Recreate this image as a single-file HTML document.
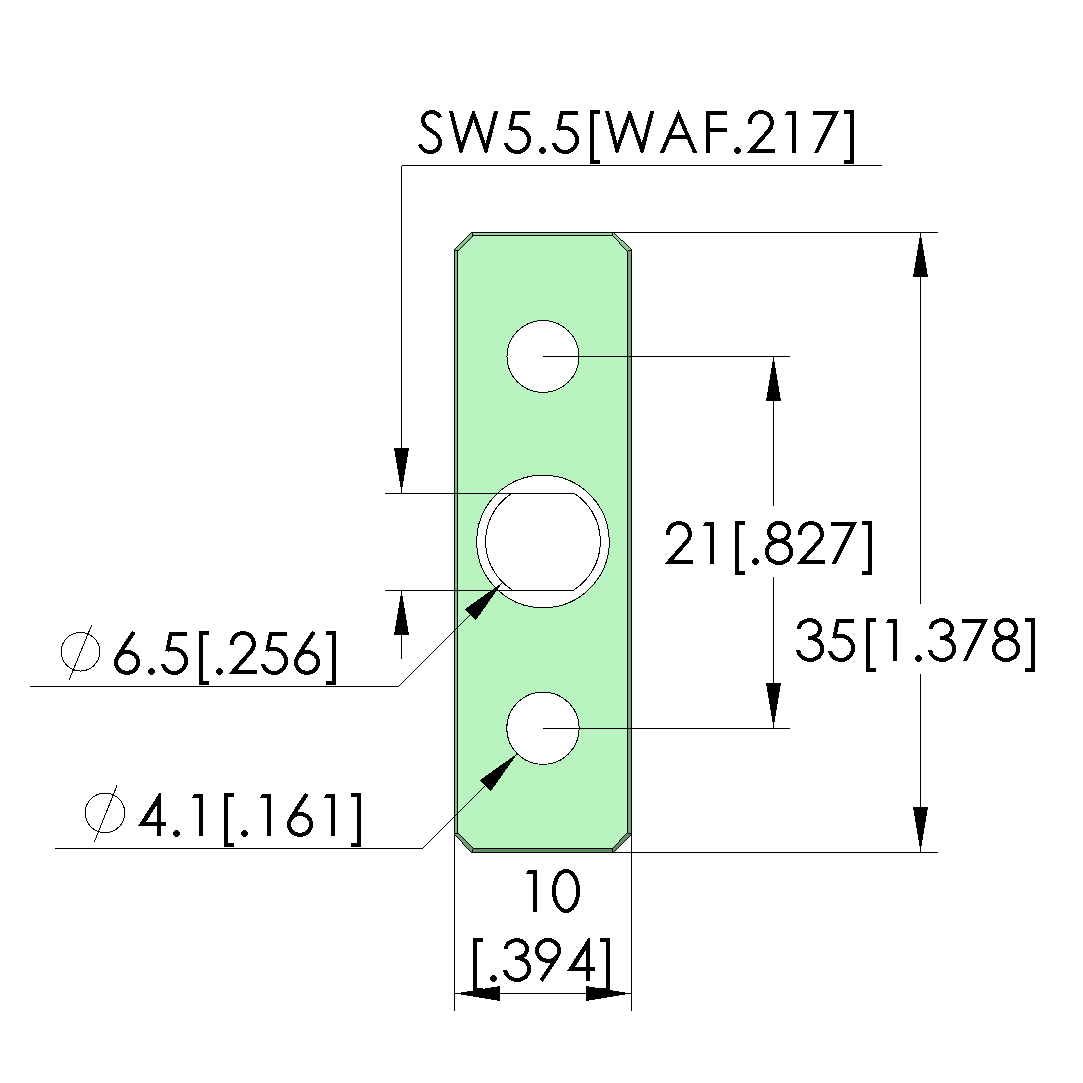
<!DOCTYPE html><html><head><meta charset="utf-8"><title>Drawing</title><style>html,body{margin:0;padding:0;background:#fff;font-family:"Liberation Sans",sans-serif}svg{display:block}</style></head><body><svg width="1083" height="1083" viewBox="0 0 1083 1083" shape-rendering="crispEdges"><defs><clipPath id="capclip"><rect x="-5" y="-42" width="70" height="42"/></clipPath><clipPath id="capclipA"><rect x="-5" y="-43" width="70" height="43"/></clipPath></defs><rect width="1083" height="1083" fill="#fff"/><polygon points="454.5,249.5 471.5,232.5 613.5,232.5 621.5,240.5 622.5,240.5 631.5,249.5 631.5,834.5 613.5,852.5 471.5,852.5 462.5,843.5 462.5,842.5 454.5,834.5" fill="#b9f4c0" stroke="none"/>
<polygon points="454.5,249.5 471.5,232.5 473.5,235.5 457.5,251.5" fill="#86c28c" stroke="none"/>
<polygon points="471.5,232.5 613.5,232.5 612.5,235.5 473.5,235.5" fill="#97db9d" stroke="none"/>
<polygon points="613.5,232.5 621.5,240.5 619.5,242.5 612.5,235.5" fill="#94d69c" stroke="none"/>
<polygon points="621.5,240.5 622.5,240.5 631.5,249.5 627.5,251.5 619.5,243.5 619.5,242.5" fill="#8bc492" stroke="none"/>
<polygon points="631.5,249.5 631.5,834.5 627.5,832.5 627.5,251.5" fill="#75a378" stroke="none"/>
<polygon points="631.5,834.5 613.5,852.5 612.5,848.5 619.5,841.5 619.5,840.5 627.5,832.5" fill="#638c68" stroke="none"/>
<polygon points="613.5,852.5 471.5,852.5 473.5,848.5 612.5,848.5" fill="#648d67" stroke="none"/>
<polygon points="471.5,852.5 462.5,843.5 462.5,842.5 454.5,834.5 457.5,832.5 473.5,848.5" fill="#6f9b74" stroke="none"/>
<polygon points="454.5,834.5 454.5,249.5 457.5,251.5 457.5,832.5" fill="#7fbb86" stroke="none"/>
<g fill="#fff" stroke="#000" stroke-width="1"><circle cx="543.0" cy="356.5" r="36"/><circle cx="543.0" cy="728.2" r="36.2"/><circle cx="543.0" cy="541.5" r="66.3"/></g>
<path d="M512.30,493.0A57.4,57.4 0 0 0 512.30,590.0 M573.70,493.0A57.4,57.4 0 0 1 573.70,590.0" fill="none" stroke="#000" stroke-width="1"/>
<g fill="none" stroke="#000" stroke-width="1"><polygon points="454.5,249.5 471.5,232.5 613.5,232.5 621.5,240.5 622.5,240.5 631.5,249.5 631.5,834.5 613.5,852.5 471.5,852.5 462.5,843.5 462.5,842.5 454.5,834.5"/><polygon points="457.5,251.5 473.5,235.5 612.5,235.5 619.5,242.5 619.5,243.5 627.5,251.5 627.5,832.5 619.5,840.5 619.5,841.5 612.5,848.5 473.5,848.5 457.5,832.5"/><line x1="454.5" y1="250.5" x2="457.5" y2="250.5"/><line x1="472.5" y1="232.5" x2="472.5" y2="235.5"/><line x1="612.5" y1="232.5" x2="612.5" y2="235.5"/><line x1="627.5" y1="250.5" x2="631.5" y2="250.5"/><line x1="627.5" y1="833.5" x2="631.5" y2="833.5"/><line x1="612.5" y1="848.5" x2="612.5" y2="852.5"/><line x1="472.5" y1="848.5" x2="472.5" y2="852.5"/><line x1="454.5" y1="833.5" x2="457.5" y2="833.5"/></g>
<g stroke="#000" stroke-width="1" fill="none"><line x1="401.5" y1="165.5" x2="882" y2="165.5"/><line x1="401.5" y1="165.5" x2="401.5" y2="493.5"/><line x1="385" y1="493.5" x2="573.6" y2="493.5"/><line x1="385" y1="590.5" x2="573.6" y2="590.5"/><line x1="401.5" y1="590.5" x2="401.5" y2="659"/><line x1="613" y1="232.5" x2="938" y2="232.5"/><line x1="613" y1="852.5" x2="938" y2="852.5"/><line x1="920.5" y1="232.5" x2="920.5" y2="604"/><line x1="920.5" y1="674" x2="920.5" y2="852.5"/><line x1="543" y1="356.5" x2="790" y2="356.5"/><line x1="543" y1="728.5" x2="790" y2="728.5"/><line x1="773.5" y1="356.5" x2="773.5" y2="505.5"/><line x1="773.5" y1="577" x2="773.5" y2="728.5"/><line x1="454.5" y1="830" x2="454.5" y2="1011"/><line x1="631.5" y1="830" x2="631.5" y2="1011"/><line x1="454.5" y1="993.5" x2="631.5" y2="993.5"/><line x1="30" y1="686.5" x2="398.5" y2="686.5"/><line x1="398.5" y1="686.5" x2="502.5" y2="582.5"/><line x1="55" y1="848.5" x2="422.5" y2="848.5"/><line x1="422.5" y1="848.5" x2="517.5" y2="753.5"/><circle cx="80.5" cy="651.7" r="19.3" fill="none"/><line x1="69.2" y1="679.7" x2="91.7" y2="625"/><circle cx="105" cy="812.9" r="19.8" fill="none"/><line x1="94.4" y1="841.8" x2="117" y2="785.6"/></g>
<polygon points="401.50,493.30 394.00,448.30 409.00,448.30" fill="#000"/><polygon points="401.50,590.30 409.00,635.30 394.00,635.30" fill="#000"/><polygon points="920.50,232.30 928.00,277.30 913.00,277.30" fill="#000"/><polygon points="920.50,852.30 913.00,807.30 928.00,807.30" fill="#000"/><polygon points="773.50,356.30 781.00,401.30 766.00,401.30" fill="#000"/><polygon points="773.50,728.30 766.00,683.30 781.00,683.30" fill="#000"/><polygon points="454.70,993.50 499.70,986.00 499.70,1001.00" fill="#000"/><polygon points="631.35,993.50 586.35,1001.00 586.35,986.00" fill="#000"/><polygon points="502.70,582.30 475.76,620.27 464.73,609.24" fill="#000"/><polygon points="517.70,753.30 490.76,791.27 479.73,780.24" fill="#000"/>
<g><g transform="translate(418.0,153)"><path d="M22.2,-35.4C20.5,-38.8 17.6,-41 13.8,-41C9,-41 5.1,-37.5 5.1,-32.8C5.1,-27.2 9.3,-24.6 14,-21.8C18.6,-19.1 22.1,-16.4 22.1,-11C22.1,-5.5 17.9,-1.0 12.5,-1.0C7.5,-1.0 3.6,-4.3 1.7,-8.7" fill="none" stroke="#000" stroke-width="4.0" stroke-linejoin="miter" stroke-miterlimit="10" /></g><g transform="translate(449.0,153)"><g clip-path="url(#capclip)"><path d="M0.9,-46L12,-3L24.5,-39L37,-3L48.2,-46" fill="none" stroke="#000" stroke-width="4.0" stroke-linejoin="miter" stroke-miterlimit="10" /></g></g><g transform="translate(504.0,153)"><path d="M10.05,-42L6.2,-22.6" fill="none" stroke="#000" stroke-width="3.9" stroke-linejoin="miter" stroke-miterlimit="10" /><path d="M7,-25H13.2A11.8,12 0 1 1 1.775,-10" fill="none" stroke="#000" stroke-width="4.0" stroke-linejoin="miter" stroke-miterlimit="10" /><path d="M8,-42H26V-38H8Z" fill="#000" /></g><g transform="translate(539,153)"><circle cx="3.5" cy="-2.5" r="3.4" fill="#000"/></g><g transform="translate(552.0,153)"><path d="M10.05,-42L6.2,-22.6" fill="none" stroke="#000" stroke-width="3.9" stroke-linejoin="miter" stroke-miterlimit="10" /><path d="M7,-25H13.2A11.8,12 0 1 1 1.775,-10" fill="none" stroke="#000" stroke-width="4.0" stroke-linejoin="miter" stroke-miterlimit="10" /><path d="M8,-42H26V-38H8Z" fill="#000" /></g><g transform="translate(590.0,153)"><path d="M0,-43H10V-39H4V7H10V11H0Z" fill="#000" /></g><g transform="translate(605.1,153)"><g clip-path="url(#capclip)"><path d="M0.9,-46L12,-3L24.5,-39L37,-3L48.2,-46" fill="none" stroke="#000" stroke-width="4.0" stroke-linejoin="miter" stroke-miterlimit="10" /></g></g><g transform="translate(660.0,153)"><g clip-path="url(#capclipA)"><path d="M0.18,4L18.5,-38.5L36.87,4" fill="none" stroke="#000" stroke-width="3.85" stroke-linejoin="miter" stroke-miterlimit="10" /></g><path d="M8.5,-18H28.5V-14H8.5Z" fill="#000" /></g><g transform="translate(706,153)"><path d="M0,-42H21.2V-38H4.1V-25.2H21.2V-21.2H4.1V0H0Z" fill="#000" /></g><g transform="translate(734,153)"><circle cx="3.5" cy="-2.5" r="3.4" fill="#000"/></g><g transform="translate(747.0,153)"><path d="M3,-29.2A10.95,10.95 0 1 1 22.09,-22.72L3.9,-2H28" fill="none" stroke="#000" stroke-width="4.0" stroke-linejoin="miter" stroke-miterlimit="10" /></g><g transform="translate(784.9,153)"><path d="M2.2,-42H11.1V0H7.1V-38H0Z" fill="#000" /></g><g transform="translate(812.9,153)"><path d="M0,-42H26.1L5.3,0H0.9L19.7,-38H0Z" fill="#000" /></g><g transform="translate(844.0,153)"><path d="M0,-43H10V11H0V7H6V-39H0Z" fill="#000" /></g><g transform="translate(665.0,564)"><path d="M3,-29.2A10.95,10.95 0 1 1 22.09,-22.72L3.9,-2H28" fill="none" stroke="#000" stroke-width="4.0" stroke-linejoin="miter" stroke-miterlimit="10" /></g><g transform="translate(703.1,564)"><path d="M2.2,-42H11.1V0H7.1V-38H0Z" fill="#000" /></g><g transform="translate(735.0,564)"><path d="M0,-43H10V-39H4V7H10V11H0Z" fill="#000" /></g><g transform="translate(752,564)"><circle cx="3.5" cy="-2.5" r="3.4" fill="#000"/></g><g transform="translate(765.0,564)"><ellipse cx="14.03" cy="-32.1" rx="10" ry="9" fill="none" stroke="#000" stroke-width="4"/><ellipse cx="14.03" cy="-12" rx="12.05" ry="11" fill="none" stroke="#000" stroke-width="4"/></g><g transform="translate(797.0,564)"><path d="M3,-29.2A10.95,10.95 0 1 1 22.09,-22.72L3.9,-2H28" fill="none" stroke="#000" stroke-width="4.0" stroke-linejoin="miter" stroke-miterlimit="10" /></g><g transform="translate(830.7,564)"><path d="M0,-42H26.1L5.3,0H0.9L19.7,-38H0Z" fill="#000" /></g><g transform="translate(862.0,564)"><path d="M0,-43H10V11H0V7H6V-39H0Z" fill="#000" /></g><g transform="translate(796,661)"><path d="M2.9,-32.2A10.55,8.95 0 1 1 13.45,-23H12" fill="none" stroke="#000" stroke-width="4.0" stroke-linejoin="miter" stroke-miterlimit="10" /><path d="M12,-23H14.05A12.05,10.975 0 1 1 2.06,-11.1" fill="none" stroke="#000" stroke-width="4.0" stroke-linejoin="miter" stroke-miterlimit="10" /></g><g transform="translate(828,661)"><path d="M10.05,-42L6.2,-22.6" fill="none" stroke="#000" stroke-width="3.9" stroke-linejoin="miter" stroke-miterlimit="10" /><path d="M7,-25H13.2A11.8,12 0 1 1 1.775,-10" fill="none" stroke="#000" stroke-width="4.0" stroke-linejoin="miter" stroke-miterlimit="10" /><path d="M8,-42H26V-38H8Z" fill="#000" /></g><g transform="translate(866.0,661)"><path d="M0,-43H10V-39H4V7H10V11H0Z" fill="#000" /></g><g transform="translate(885.8,661)"><path d="M2.2,-42H11.1V0H7.1V-38H0Z" fill="#000" /></g><g transform="translate(915,661)"><circle cx="3.5" cy="-2.5" r="3.4" fill="#000"/></g><g transform="translate(928.0,661)"><path d="M2.9,-32.2A10.55,8.95 0 1 1 13.45,-23H12" fill="none" stroke="#000" stroke-width="4.0" stroke-linejoin="miter" stroke-miterlimit="10" /><path d="M12,-23H14.05A12.05,10.975 0 1 1 2.06,-11.1" fill="none" stroke="#000" stroke-width="4.0" stroke-linejoin="miter" stroke-miterlimit="10" /></g><g transform="translate(961.9,661)"><path d="M0,-42H26.1L5.3,0H0.9L19.7,-38H0Z" fill="#000" /></g><g transform="translate(992.0,661)"><ellipse cx="14.03" cy="-32.1" rx="10" ry="9" fill="none" stroke="#000" stroke-width="4"/><ellipse cx="14.03" cy="-12" rx="12.05" ry="11" fill="none" stroke="#000" stroke-width="4"/></g><g transform="translate(1025.0,661)"><path d="M0,-43H10V11H0V7H6V-39H0Z" fill="#000" /></g><g transform="translate(525.95,912)"><path d="M2.2,-42H11.1V0H7.1V-38H0Z" fill="#000" /></g><g transform="translate(552.0,912)"><ellipse cx="14.05" cy="-21.1" rx="12.05" ry="20" fill="none" stroke="#000" stroke-width="4"/></g><g transform="translate(473.0,981)"><path d="M0,-43H10V-39H4V7H10V11H0Z" fill="#000" /></g><g transform="translate(490.0,981)"><circle cx="3.5" cy="-2.5" r="3.4" fill="#000"/></g><g transform="translate(503,981)"><path d="M2.9,-32.2A10.55,8.95 0 1 1 13.45,-23H12" fill="none" stroke="#000" stroke-width="4.0" stroke-linejoin="miter" stroke-miterlimit="10" /><path d="M12,-23H14.05A12.05,10.975 0 1 1 2.06,-11.1" fill="none" stroke="#000" stroke-width="4.0" stroke-linejoin="miter" stroke-miterlimit="10" /></g><g transform="translate(535,981)"><ellipse cx="13.07" cy="-30.52" rx="11.07" ry="10.48" fill="none" stroke="#000" stroke-width="4"/><path d="M6.18,-0.22L21.9,-23.7" fill="none" stroke="#000" stroke-width="4.0" stroke-linejoin="miter" stroke-miterlimit="10" /></g><g transform="translate(567.0,981)"><path d="M0,-10L21.4,-43H23V-14H28V-10H23V0H19V-10Z M8,-14H19V-31Z" fill="#000" fill-rule="evenodd"/></g><g transform="translate(600.0,981)"><path d="M0,-43H10V11H0V7H6V-39H0Z" fill="#000" /></g><g transform="translate(114.0,674)"><ellipse cx="13.07" cy="-11.6" rx="11.05" ry="10.5" fill="none" stroke="#000" stroke-width="4"/><path d="M19.83,-41.95L4.2,-18.4" fill="none" stroke="#000" stroke-width="4.0" stroke-linejoin="miter" stroke-miterlimit="10" /></g><g transform="translate(148,674)"><circle cx="3.5" cy="-2.5" r="3.4" fill="#000"/></g><g transform="translate(161.0,674)"><path d="M10.05,-42L6.2,-22.6" fill="none" stroke="#000" stroke-width="3.9" stroke-linejoin="miter" stroke-miterlimit="10" /><path d="M7,-25H13.2A11.8,12 0 1 1 1.775,-10" fill="none" stroke="#000" stroke-width="4.0" stroke-linejoin="miter" stroke-miterlimit="10" /><path d="M8,-42H26V-38H8Z" fill="#000" /></g><g transform="translate(199.0,674)"><path d="M0,-43H10V-39H4V7H10V11H0Z" fill="#000" /></g><g transform="translate(216,674)"><circle cx="3.5" cy="-2.5" r="3.4" fill="#000"/></g><g transform="translate(229,674)"><path d="M3,-29.2A10.95,10.95 0 1 1 22.09,-22.72L3.9,-2H28" fill="none" stroke="#000" stroke-width="4.0" stroke-linejoin="miter" stroke-miterlimit="10" /></g><g transform="translate(261.0,674)"><path d="M10.05,-42L6.2,-22.6" fill="none" stroke="#000" stroke-width="3.9" stroke-linejoin="miter" stroke-miterlimit="10" /><path d="M7,-25H13.2A11.8,12 0 1 1 1.775,-10" fill="none" stroke="#000" stroke-width="4.0" stroke-linejoin="miter" stroke-miterlimit="10" /><path d="M8,-42H26V-38H8Z" fill="#000" /></g><g transform="translate(294,674)"><ellipse cx="13.07" cy="-11.6" rx="11.05" ry="10.5" fill="none" stroke="#000" stroke-width="4"/><path d="M19.83,-41.95L4.2,-18.4" fill="none" stroke="#000" stroke-width="4.0" stroke-linejoin="miter" stroke-miterlimit="10" /></g><g transform="translate(326.0,674)"><path d="M0,-43H10V11H0V7H6V-39H0Z" fill="#000" /></g><g transform="translate(138.0,836)"><path d="M0,-10L21.4,-43H23V-14H28V-10H23V0H19V-10Z M8,-14H19V-31Z" fill="#000" fill-rule="evenodd"/></g><g transform="translate(173,836)"><circle cx="3.5" cy="-2.5" r="3.4" fill="#000"/></g><g transform="translate(191.9,836)"><path d="M2.2,-42H11.1V0H7.1V-38H0Z" fill="#000" /></g><g transform="translate(224,836)"><path d="M0,-43H10V-39H4V7H10V11H0Z" fill="#000" /></g><g transform="translate(241,836)"><circle cx="3.5" cy="-2.5" r="3.4" fill="#000"/></g><g transform="translate(259.8,836)"><path d="M2.2,-42H11.1V0H7.1V-38H0Z" fill="#000" /></g><g transform="translate(287,836)"><ellipse cx="13.07" cy="-11.6" rx="11.05" ry="10.5" fill="none" stroke="#000" stroke-width="4"/><path d="M19.83,-41.95L4.2,-18.4" fill="none" stroke="#000" stroke-width="4.0" stroke-linejoin="miter" stroke-miterlimit="10" /></g><g transform="translate(323.8,836)"><path d="M2.2,-42H11.1V0H7.1V-38H0Z" fill="#000" /></g><g transform="translate(351.0,836)"><path d="M0,-43H10V11H0V7H6V-39H0Z" fill="#000" /></g></g></svg></body></html>
